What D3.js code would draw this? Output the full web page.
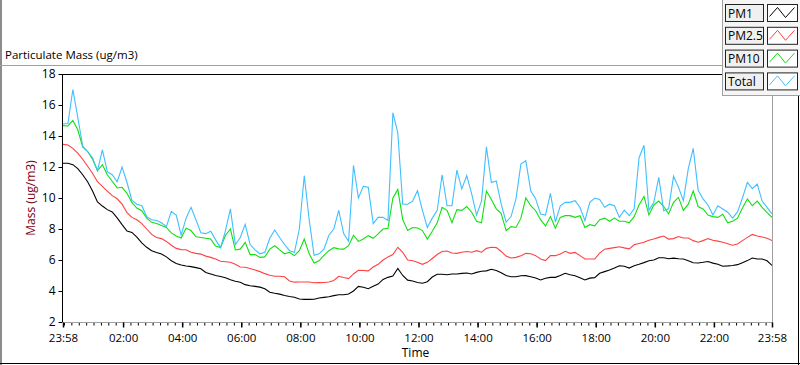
<!DOCTYPE html>
<html><head><meta charset="utf-8">
<script src="https://cdn.jsdelivr.net/npm/d3@7"></script>
<style>
html,body{margin:0;padding:0;background:#fff;}
svg{display:block;font-family:"Open Sans","Noto Sans",sans-serif;}
</style></head><body>
<svg id="c" width="800" height="365"></svg>
<script>
// ---------- DATA ----------
const chartTitle = "Particulate Mass (ug/m3)";
const yTitle = "Mass (ug/m3)";
const xTitle = "Time";
const startStamp = [2000, 0, 1, 23, 58];   // 23:58 start
const stepMinutes = 10;                    // sampling step of the arrays below
const seriesNames = ["PM1", "PM2.5", "PM10", "Total"];
const seriesColors = ["#000000", "#ff4040", "#10e010", "#40bfff"];
const yTicks = [2, 4, 6, 8, 10, 12, 14, 16, 18];
const xTickLabels = ["23:58", "02:00", "04:00", "06:00", "08:00", "10:00", "12:00",
                     "14:00", "16:00", "18:00", "20:00", "22:00", "23:58"];

const pm1 = [12.24,12.24,12.15,11.9,11.5,11.05,10.45,9.75,9.48,9.25,9.1,8.72,8.28,7.87,7.78,7.48,7.1,6.82,6.6,6.49,6.39,6.2,5.95,5.78,5.68,5.61,5.57,5.51,5.43,5.2,5.1,5.0,4.93,4.85,4.72,4.63,4.56,
  4.41,4.34,4.3,4.25,4.14,3.92,3.85,3.8,3.71,3.65,3.6,3.48,3.46,3.46,3.47,3.55,3.59,3.63,3.7,3.76,3.76,3.81,4.0,4.3,4.24,4.15,4.3,4.45,4.75,4.88,4.97,5.45,5.0,4.7,
  4.65,4.55,4.5,4.6,4.9,5.08,5.08,5.05,5.1,5.1,5.14,5.16,5.1,5.2,5.27,5.3,5.4,5.32,5.18,5.0,4.92,4.92,4.98,4.99,4.92,4.84,4.71,4.82,4.88,4.88,5.0,5.14,5.05,4.99,4.85,4.71,4.83,
  4.86,5.14,5.25,5.35,5.48,5.63,5.6,5.48,5.63,5.72,5.83,5.95,6.0,6.15,6.15,6.08,6.12,6.08,6.06,5.95,5.82,5.81,5.85,5.9,5.8,5.72,5.6,5.62,5.65,5.7,5.83,5.96,6.13,6.06,6.06,5.95,5.65];

const pm25 = [13.46,13.42,13.2,12.9,12.5,12.05,11.6,11.05,10.75,10.45,10.15,9.95,9.6,9.05,8.75,8.6,8.35,8.0,7.65,7.45,7.38,7.2,6.95,6.75,6.67,6.66,6.5,6.43,6.38,6.25,6.17,6.06,5.92,5.89,5.85,5.72,5.55,
  5.53,5.45,5.35,5.25,5.12,5.02,4.95,4.95,4.92,4.65,4.57,4.58,4.58,4.58,4.53,4.54,4.55,4.58,4.68,4.95,4.87,4.8,5.1,5.33,5.32,5.3,5.55,5.72,6.0,6.2,6.35,6.82,6.5,6.0,
  5.95,5.85,5.72,5.85,6.1,6.35,6.55,6.58,6.45,6.43,6.5,6.55,6.5,6.6,6.5,6.75,6.82,6.8,6.55,6.25,6.13,6.17,6.28,6.43,6.4,6.28,6.06,5.96,6.28,6.28,6.39,6.56,6.43,6.49,6.28,6.06,6.06,
  6.06,6.45,6.7,6.75,6.8,6.85,6.78,6.72,6.98,7.07,7.14,7.28,7.35,7.46,7.55,7.35,7.38,7.51,7.42,7.42,7.25,7.15,7.25,7.38,7.27,7.22,7.15,7.05,6.95,7.03,7.25,7.46,7.65,7.55,7.48,7.4,7.25];

const pm10 = [14.67,14.65,15.0,14.4,13.3,13.0,12.5,11.76,12.15,11.5,11.08,10.65,10.69,10.3,9.7,9.35,9.18,8.7,8.43,8.35,8.22,8.1,7.75,7.55,7.42,8.05,7.9,7.5,7.45,7.4,7.35,6.9,6.8,7.6,8.0,6.65,6.7,
  7.14,6.35,6.35,6.17,6.2,6.7,6.92,6.65,6.4,6.5,6.28,6.6,7.35,6.4,5.8,5.95,6.3,6.6,6.8,6.72,6.7,6.92,7.6,7.2,7.35,7.57,7.4,7.68,8.0,8.05,10.0,10.55,8.6,7.9,
  8.1,8.06,7.9,7.35,7.85,8.4,9.4,9.2,8.4,9.25,9.2,9.45,9.08,8.5,8.4,10.45,9.9,9.3,9.0,7.9,8.15,8.1,8.7,10.0,9.5,9.18,8.6,8.2,8.8,8.05,8.75,8.86,8.86,8.75,8.86,8.1,8.28,
  8.2,8.6,8.7,8.5,8.7,8.5,8.5,8.4,8.8,9.55,10.1,8.9,9.55,9.8,9.45,8.97,9.72,10.04,9.2,9.6,10.45,9.45,9.29,8.9,8.8,8.75,8.95,8.4,8.5,8.7,9.35,9.94,9.5,9.8,9.4,9.05,8.75];

const total = [14.77,14.8,17.0,15.2,13.35,13.0,12.6,11.76,13.1,11.7,11.5,11.05,12.0,11.0,9.85,9.6,9.5,8.8,8.6,8.55,8.4,8.15,9.14,8.9,7.6,8.7,9.4,8.6,7.75,7.7,7.85,7.3,6.8,7.9,9.3,7.0,7.45,
  8.3,7.0,6.65,6.4,6.5,7.4,7.94,7.45,7.0,6.6,6.5,8.0,11.44,8.6,6.3,6.4,6.7,7.6,8.0,9.2,7.7,7.2,12.1,10.0,10.75,10.69,8.35,8.75,8.75,8.55,15.5,14.2,9.6,9.6,
  9.8,10.47,9.2,8.1,8.7,9.2,11.5,9.5,9.5,11.8,10.58,11.44,10.26,8.9,9.8,13.3,11.0,11.1,9.6,8.45,8.8,9.94,12.19,12.4,10.47,9.94,8.97,8.9,10.3,8.45,9.5,9.72,9.72,9.83,9.4,8.54,9.72,
  10.0,9.9,9.4,9.6,9.5,8.75,9.22,8.86,9.3,12.6,13.4,9.2,9.72,11.33,9.18,9.3,11.4,10.69,9.83,11.9,13.2,10.5,9.94,9.55,8.9,9.5,9.29,9.08,8.7,9.1,10.0,11.0,10.6,10.9,9.8,9.4,8.97];

const seriesValues = [pm1, pm25, pm10, total];

// ---------- CHART ----------
const svg = d3.select("#c");
const W = 800, H = 365;
const plot = {left: 63, right: 772, top: 74, bottom: 322};

const start = new Date(...startStamp);
const end = d3.timeDay.offset(start, 1);
const tickDates = xTickLabels.map((lab, i) => {
  if (i === 0) return start;
  if (i === xTickLabels.length - 1) return end;
  const [h, m] = lab.split(":").map(Number);
  return new Date(2000, 0, 2, h, m);
});
const times = pm1.map((_, i) => d3.timeMinute.offset(start, i * stepMinutes));

const x = d3.scaleTime().domain([start, end]).range([plot.left, plot.right]);
const y = d3.scaleLinear().domain([yTicks[0], yTicks[yTicks.length - 1]]).range([plot.bottom, plot.top]);

// outer frame
svg.append("rect").attr("width", W).attr("height", H).attr("fill", "#fff");
svg.append("line").attr("x1", 1).attr("x2", 1).attr("y1", 0).attr("y2", H).attr("stroke", "#8c8c8c").attr("stroke-width", 2);
svg.append("line").attr("x1", 0).attr("x2", W).attr("y1", 363.5).attr("y2", 363.5).attr("stroke", "#000");
svg.append("line").attr("x1", 798.5).attr("x2", 798.5).attr("y1", 0).attr("y2", H).attr("stroke", "#000");

// title + separator
svg.append("text").attr("x", 5).attr("y", 59).attr("font-size", 11.5).attr("fill", "#000").text(chartTitle);
svg.append("line").attr("x1", 0).attr("x2", 722).attr("y1", 65.5).attr("y2", 65.5).attr("stroke", "#a0a0a0");

// plot frame
svg.append("line").attr("x1", plot.left - 1).attr("x2", plot.right).attr("y1", plot.top + 0.5).attr("y2", plot.top + 0.5).attr("stroke", "#000");
svg.append("line").attr("x1", plot.right + 0.5).attr("x2", plot.right + 0.5).attr("y1", plot.top).attr("y2", plot.bottom).attr("stroke", "#a0a0a0");

// clip
svg.append("clipPath").attr("id", "clip").append("rect")
  .attr("x", plot.left).attr("y", plot.top + 1).attr("width", plot.right - plot.left).attr("height", plot.bottom - plot.top - 1);

// lines
const gLines = svg.append("g").attr("clip-path", "url(#clip)");
seriesValues.forEach((vals, si) => {
  const line = d3.line().x((d, i) => x(times[i])).y(d => y(d));
  gLines.append("path").datum(vals)
    .attr("fill", "none").attr("stroke", seriesColors[si]).attr("stroke-width", 1.1)
    .attr("stroke-linejoin", "miter").attr("d", line);
});

// y axis
const yAxis = svg.append("g").attr("transform", `translate(${plot.left - 0.5},0)`)
  .call(d3.axisLeft(y).tickValues(yTicks).tickSize(4).tickPadding(3).tickFormat(d3.format("d")));
yAxis.select(".domain").attr("stroke", "#000").attr("d", `M0,${plot.top}V${plot.bottom}`);
yAxis.selectAll("text").attr("font-size", 12).attr("font-family", "'Open Sans',sans-serif").attr("fill", "#000");
yAxis.selectAll(".tick line").attr("stroke", "#000");

// x axis minor ticks
const minor = d3.timeMinute.every(15).range(d3.timeMinute.offset(start, 1), end);
const xMinor = svg.append("g").attr("transform", `translate(0,${plot.bottom + 0.5})`)
  .call(d3.axisBottom(x).tickValues(minor).tickSize(3).tickFormat(""));
xMinor.select(".domain").remove();
xMinor.selectAll(".tick line").attr("stroke", "#000");

// x axis major
const xAxis = svg.append("g").attr("transform", `translate(0,${plot.bottom + 0.5})`)
  .call(d3.axisBottom(x).tickValues(tickDates).tickSize(5).tickPadding(6).tickFormat((d, i) => xTickLabels[i]));
xAxis.select(".domain").attr("stroke", "#a0a0a0").attr("d", `M${plot.left},0H${plot.right + 1}`);
xAxis.selectAll(".tick line").attr("stroke", "#000").attr("stroke-width", 1.5);
xAxis.selectAll("text").attr("font-size", 11.5).attr("font-family", "'Open Sans',sans-serif").attr("fill", "#000");

// axis titles
svg.append("text").attr("x", (plot.left + plot.right) / 2 - 2).attr("y", 357).attr("text-anchor", "middle")
  .attr("font-size", 12).attr("fill", "#000").text(xTitle);
svg.append("text").attr("transform", `translate(35,${(plot.top + plot.bottom) / 2}) rotate(-90)`)
  .attr("text-anchor", "middle").attr("font-size", 12).attr("fill", "#7a0010").text(yTitle);

// legend
const lg = svg.append("g");
lg.append("rect").attr("x", 722.5).attr("y", -1).attr("width", 80).attr("height", 96.5)
  .attr("fill", "#f5f5f5").attr("stroke", "#a0a0a0");
seriesNames.forEach((name, i) => {
  const ty = 4.5 + i * 22.8;
  lg.append("rect").attr("x", 725.5).attr("y", ty).attr("width", 38).attr("height", 17)
    .attr("fill", "#f0f0f0").attr("stroke", "#222");
  lg.append("text").attr("x", 728).attr("y", ty + 13).attr("font-size", 12).attr("fill", "#000").text(name);
  lg.append("rect").attr("x", 767.5).attr("y", ty).attr("width", 30).attr("height", 17)
    .attr("fill", "#fff").attr("stroke", "#222");
  const zz = [[2, 12], [10, 3], [18, 13], [27, 3]].map(([a, b]) => [767.5 + a, ty + b]);
  lg.append("path").attr("d", d3.line()(zz)).attr("fill", "none").attr("stroke", seriesColors[i]).attr("stroke-width", 1);
});
</script>
</body></html>
